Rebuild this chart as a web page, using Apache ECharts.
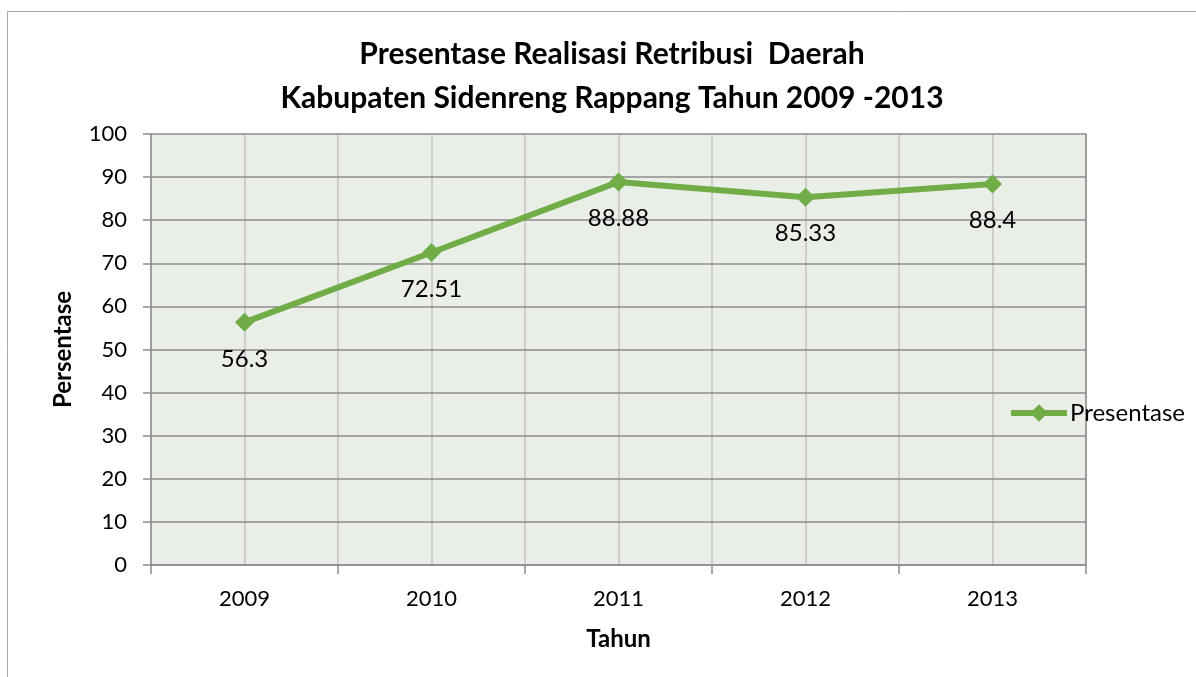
<!DOCTYPE html>
<html>
<head>
<meta charset="utf-8">
<script src="https://cdn.jsdelivr.net/npm/echarts@6/dist/echarts.min.js"></script>
<style>
  html, body { margin: 0; padding: 0; background: #fff; }
  #chart { width: 1196px; height: 677px; }
</style>
</head>
<body>
<div id="chart"></div>
<script>
// Persentase realisasi retribusi daerah per tahun
const years = ['2009', '2010', '2011', '2012', '2013'];
const presentase = [56.3, 72.51, 88.88, 85.33, 88.4];
const yTicks = { min: 0, max: 100, interval: 10 };

const FONT = 'Lato, "Open Sans", sans-serif';
const GREEN = '#70AD47';

const chart = echarts.init(document.getElementById('chart'), null, { renderer: 'canvas' });

chart.setOption({
  backgroundColor: '#ffffff',
  animation: false,
  textStyle: { fontFamily: FONT },
  title: {
    text: 'Presentase Realisasi Retribusi  Daerah\nKabupaten Sidenreng Rappang Tahun 2009 -2013',
    left: 607,
    top: 27,
    textAlign: 'center',
    textStyle: { fontFamily: FONT, fontSize: 30, fontWeight: 'bold', color: '#000', lineHeight: 44 }
  },
  legend: {
    data: ['Presentase'],
    left: 1008,
    top: 401,
    padding: 0,
    itemWidth: 56,
    itemHeight: 22,
    itemGap: 4,
    lineStyle: { width: 6 },
    textStyle: { fontFamily: FONT, fontSize: 24, color: '#000', padding: [0, 0, 0, -2] }
  },
  graphic: [{
    type: 'rect',
    shape: { x: 7.5, y: 11.5, width: 1300, height: 800 },
    style: { fill: 'none', stroke: '#A6A6A6', lineWidth: 1 },
    silent: true
  }],
  grid: {
    left: 151, right: 110, top: 134, bottom: 112,
    show: true,
    backgroundColor: '#E9EEE7',
    borderWidth: 0
  },
  xAxis: [{
    type: 'category',
    data: years,
    boundaryGap: true,
    name: 'Tahun',
    nameLocation: 'middle',
    nameGap: 62,
    nameTextStyle: { fontFamily: FONT, fontSize: 24, fontWeight: 'bold', color: '#000' },
    axisLine: { lineStyle: { color: '#8C8C8C', width: 1.5 } },
    axisTick: { show: true, alignWithLabel: false, length: 9, lineStyle: { color: '#8C8C8C', width: 1.5 } },
    axisLabel: { fontFamily: FONT, fontSize: 22, color: '#000', margin: 23 },
    splitLine: { show: false },
    z: 3
  }, {
    // half-category grid: vertical lines at every category centre and boundary
    type: 'value',
    min: 0, max: 10, interval: 1,
    position: 'bottom',
    show: true,
    axisLine: { show: false },
    axisTick: { show: false },
    axisLabel: { show: false },
    splitLine: { show: true, lineStyle: { color: '#C3C3C3', width: 1.5 } }
  }],
  yAxis: [{
    type: 'value',
    min: yTicks.min, max: yTicks.max, interval: yTicks.interval,
    name: 'Persentase',
    nameLocation: 'middle',
    nameGap: 76,
    nameRotate: 90,
    nameTextStyle: { fontFamily: FONT, fontSize: 24, fontWeight: 'bold', color: '#000' },
    axisLine: { show: true, lineStyle: { color: '#8C8C8C', width: 1.5 } },
    axisTick: { show: true, length: 8, lineStyle: { color: '#8C8C8C', width: 1.5 } },
    axisLabel: { fontFamily: FONT, fontSize: 22, color: '#000', margin: 24 },
    splitLine: { show: true, lineStyle: { color: '#8C8C8C', width: 1.5 } },
    z: 3
  }, {
    type: 'value',
    min: yTicks.min, max: yTicks.max,
    position: 'right',
    axisLine: { show: true, lineStyle: { color: '#8C8C8C', width: 1.5 } },
    axisTick: { show: false },
    axisLabel: { show: false },
    splitLine: { show: false }
  }],
  series: [{
    name: 'Presentase',
    type: 'line',
    xAxisIndex: 0,
    yAxisIndex: 0,
    data: presentase,
    symbol: 'diamond',
    symbolSize: 19,
    itemStyle: { color: GREEN },
    lineStyle: { color: GREEN, width: 6 },
    label: {
      show: true,
      position: 'bottom',
      distance: 15,
      fontFamily: FONT,
      fontSize: 24,
      color: '#000'
    },
    z: 5
  }]
});
</script>
</body>
</html>
